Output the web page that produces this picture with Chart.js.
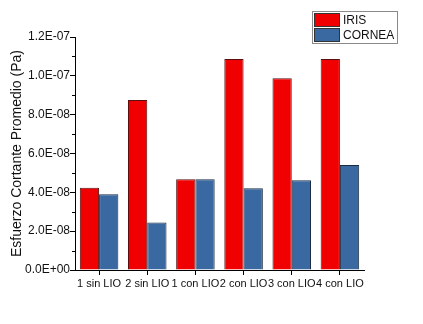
<!DOCTYPE html>
<html>
<head>
<meta charset="utf-8">
<script src="https://cdn.jsdelivr.net/npm/chart.js@4/dist/chart.umd.min.js"></script>
<style>
  html, body { margin: 0; padding: 0; background: #fff; }
  #wrap { width: 423px; height: 324px; }
</style>
</head>
<body>
<div id="wrap"><canvas id="grafico" width="423" height="324"></canvas></div>
<script>
// Datos
const categorias = ['1 sin LIO', '2 sin LIO', '1 con LIO', '2 con LIO', '3 con LIO', '4 con LIO'];
const iris = [4.24e-8, 8.76e-8, 4.67e-8, 1.087e-7, 9.87e-8, 1.087e-7];
const cornea = [3.90e-8, 2.44e-8, 4.67e-8, 4.21e-8, 4.62e-8, 5.41e-8];
const nombresSeries = ['IRIS', 'CORNEA'];
const coloresSeries = ['#F00000', '#3A68A0'];

// formato tipo 1.2E-07
function formatoCientifico(v) {
  if (Math.abs(v) < 1e-20) return '0.0E+00';
  const partes = v.toExponential(1).split('e');
  const exp = parseInt(partes[1], 10);
  const signo = exp < 0 ? '-' : '+';
  return partes[0] + 'E' + signo + String(Math.abs(exp)).padStart(2, '0');
}

// Leyenda y ticks menores dibujados a mano
const extras = {
  id: 'extras',
  afterDraw(chart) {
    const ctx = chart.ctx;
    const y = chart.scales.y;
    ctx.save();
    // ticks menores del eje y
    ctx.strokeStyle = '#000';
    ctx.lineWidth = 1;
    for (let v = 1e-8; v < 1.2e-7; v += 2e-8) {
      const py = Math.round(y.getPixelForValue(v)) + 0.5;
      ctx.beginPath();
      ctx.moveTo(y.right - 3, py);
      ctx.lineTo(y.right, py);
      ctx.stroke();
    }
    // caja de la leyenda
    ctx.strokeStyle = '#8a8a8a';
    ctx.strokeRect(312.5, 11.5, 85, 32);
    for (let i = 0; i < nombresSeries.length; i++) {
      const top = 13 + i * 15;
      ctx.fillStyle = coloresSeries[i];
      ctx.fillRect(314, top, 26, 14);
      ctx.strokeStyle = '#333';
      ctx.strokeRect(314.5, top + 0.5, 25, 13);
      ctx.fillStyle = '#111';
      ctx.font = '12px "Liberation Sans", Arial, sans-serif';
      ctx.textBaseline = 'middle';
      ctx.textAlign = 'left';
      ctx.fillText(nombresSeries[i], 343, top + 7.5);
    }
    ctx.restore();
  }
};

new Chart(document.getElementById('grafico'), {
  type: 'bar',
  data: {
    labels: categorias,
    datasets: [
      {
        label: nombresSeries[0],
        data: iris,
        backgroundColor: coloresSeries[0],
        borderColor: '#5a1010',
        borderWidth: 1
      },
      {
        label: nombresSeries[1],
        data: cornea,
        backgroundColor: coloresSeries[1],
        borderColor: '#1c2c40',
        borderWidth: 1
      }
    ]
  },
  options: {
    responsive: false,
    animation: false,
    layout: { padding: { left: 0, right: 59, top: 37, bottom: 0 } },
    plugins: {
      legend: { display: false },
      tooltip: { enabled: false }
    },
    datasets: {
      bar: { categoryPercentage: 0.8, barPercentage: 1.0 }
    },
    scales: {
      x: {
        grid: { offset: false, drawOnChartArea: false, drawTicks: true, tickLength: 5, color: '#000' },
        border: { color: '#000', width: 1 },
        ticks: {
          autoSkip: false,
          maxRotation: 0,
          minRotation: 0,
          padding: 2,
          color: '#111',
          font: { family: '"Liberation Sans", Arial, sans-serif', size: 11 }
        },
        afterFit(scale) { scale.height = 54; }
      },
      y: {
        min: 0,
        max: 1.2e-7,
        grid: { drawOnChartArea: false, drawTicks: true, tickLength: 5, color: '#000' },
        border: { color: '#000', width: 1 },
        ticks: {
          stepSize: 2e-8,
          padding: 0,
          color: '#111',
          font: { family: '"Liberation Sans", Arial, sans-serif', size: 12 },
          callback: function(v) { return formatoCientifico(v); }
        },
        title: {
          display: true,
          text: 'Esfuerzo Cortante Promedio (Pa)',
          color: '#111',
          padding: { top: 9, bottom: 0 },
          font: { family: '"Liberation Sans", Arial, sans-serif', size: 14 }
        },
        afterFit(scale) { scale.width = 75; }
      }
    }
  },
  plugins: [extras]
});
</script>
</body>
</html>
